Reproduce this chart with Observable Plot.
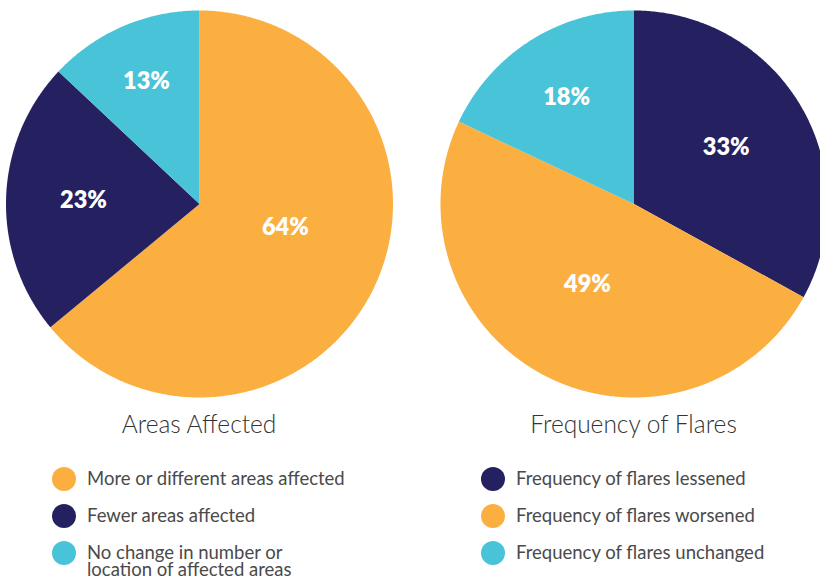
<!DOCTYPE html>
<html>
<head>
<meta charset="utf-8">
<script src="https://cdn.jsdelivr.net/npm/d3@7"></script>
<script src="https://cdn.jsdelivr.net/npm/@observablehq/plot@0.6"></script>
<style>
  html, body { margin: 0; padding: 0; background: #fff; overflow: hidden; }
  #wrap { position: relative; width: 820px; height: 578px; font-family: Lato, "Open Sans", sans-serif; }
  #wrap svg { position: absolute; left: 0; top: 0; }
  .title { position: absolute; top: 424px; transform: translate(-50%, -50%); font-size: 24.5px; font-weight: 300; color: #333; white-space: nowrap; line-height: 1; }
  .dot { position: absolute; width: 24px; height: 24px; border-radius: 50%; }
  .lab { position: absolute; font-size: 18.5px; font-weight: 400; color: #4a4a4a; line-height: 16.5px; }
</style>
</head>
<body>
<div id="wrap"></div>
<script>
// ---- data ----
const pieTitles = ["Areas Affected", "Frequency of Flares"];
const areasCategories = ["More or different areas affected", "Fewer areas affected", "No change in number or location of affected areas"];
const areasValues = [64, 23, 13];
const flaresCategories = ["Frequency of flares lessened", "Frequency of flares worsened", "Frequency of flares unchanged"];
const flaresValues = [33, 49, 18];
const areasColors = ["#FBAF41", "#252060", "#49C3D7"];
const flaresColors = ["#252060", "#FBAF41", "#49C3D7"];

// ---- layout (not data) ----
const W = 820, H = 400, R = 193.5;
const centersPx = [199, 633.5];
const centerYPx = 203.5;
const labelRadius = [[0.46, 0.60, 0.69], [0.56, 0.48, 0.65]];
const labelShiftDeg = [[-10, 0, 0], [-1, 3, 0]];
const legendDotX = [64, 493];
const legendTextX = [87, 516];
const legendRowY = [479, 516, 553];
const legendWrapWidth = [[null, null, 215], [null, null, null]];

const pies = [
  {title: pieTitles[0], cats: areasCategories, vals: areasValues, cols: areasColors},
  {title: pieTitles[1], cats: flaresCategories, vals: flaresValues, cols: flaresColors}
];

const pieGen = d3.pie().sort(null).value(d => d.value);
const polys = [];
const labels = [];
pies.forEach((p, pi) => {
  const cx = (centersPx[pi] - centersPx[0]) / R;
  const arcs = pieGen(p.cats.map((c, i) => ({cat: c, value: p.vals[i]})));
  arcs.forEach((a, i) => {
    const id = pi + "-" + i;
    polys.push({id, cat: a.data.cat, x: cx, y: 0});
    const n = Math.max(2, Math.ceil((a.endAngle - a.startAngle) / (Math.PI / 360)));
    for (let k = 0; k <= n; k++) {
      const t = a.startAngle + (a.endAngle - a.startAngle) * k / n;
      polys.push({id, cat: a.data.cat, x: cx + Math.sin(t), y: Math.cos(t)});
    }
    polys.push({id, cat: a.data.cat, x: cx, y: 0});
    const mid = (a.startAngle + a.endAngle) / 2 + labelShiftDeg[pi][i] * Math.PI / 180;
    const lr = labelRadius[pi][i];
    labels.push({x: cx + lr * Math.sin(mid), y: lr * Math.cos(mid), text: a.data.value + "%"});
  });
});

const allCats = [...areasCategories, ...flaresCategories];
const allCols = [...areasColors, ...flaresColors];

const plot = Plot.plot({
  width: W, height: H,
  marginTop: 0, marginBottom: 0, marginLeft: 0, marginRight: 0,
  x: {domain: [-centersPx[0] / R, (W - centersPx[0]) / R], axis: null},
  y: {domain: [-(H - centerYPx) / R, centerYPx / R], axis: null},
  color: {domain: allCats, range: allCols},
  style: {background: "transparent", overflow: "hidden"},
  marks: [
    Plot.line(polys, {x: "x", y: "y", z: "id", fill: "cat", stroke: "none", curve: "linear"}),
    Plot.text(labels, {x: "x", y: "y", text: "text", fill: "white", fontSize: 23.5, fontWeight: 800, fontFamily: "Lato, sans-serif"})
  ]
});
const wrap = document.getElementById("wrap");
wrap.appendChild(plot);

pies.forEach((p, pi) => {
  const t = document.createElement("div");
  t.className = "title";
  t.style.left = centersPx[pi] + "px";
  t.textContent = p.title;
  wrap.appendChild(t);
  p.cats.forEach((c, i) => {
    const d = document.createElement("div");
    d.className = "dot";
    d.style.left = (legendDotX[pi] - 12) + "px";
    d.style.top = (legendRowY[i] - 12) + "px";
    d.style.background = p.cols[i];
    wrap.appendChild(d);
    const l = document.createElement("div");
    l.className = "lab";
    l.style.left = legendTextX[pi] + "px";
    l.style.top = (legendRowY[i] - 9) + "px";
    const ww = legendWrapWidth[pi][i];
    if (ww) { l.style.width = ww + "px"; l.style.whiteSpace = "normal"; }
    else { l.style.whiteSpace = "nowrap"; }
    l.textContent = c;
    wrap.appendChild(l);
  });
});
</script>
</body>
</html>
